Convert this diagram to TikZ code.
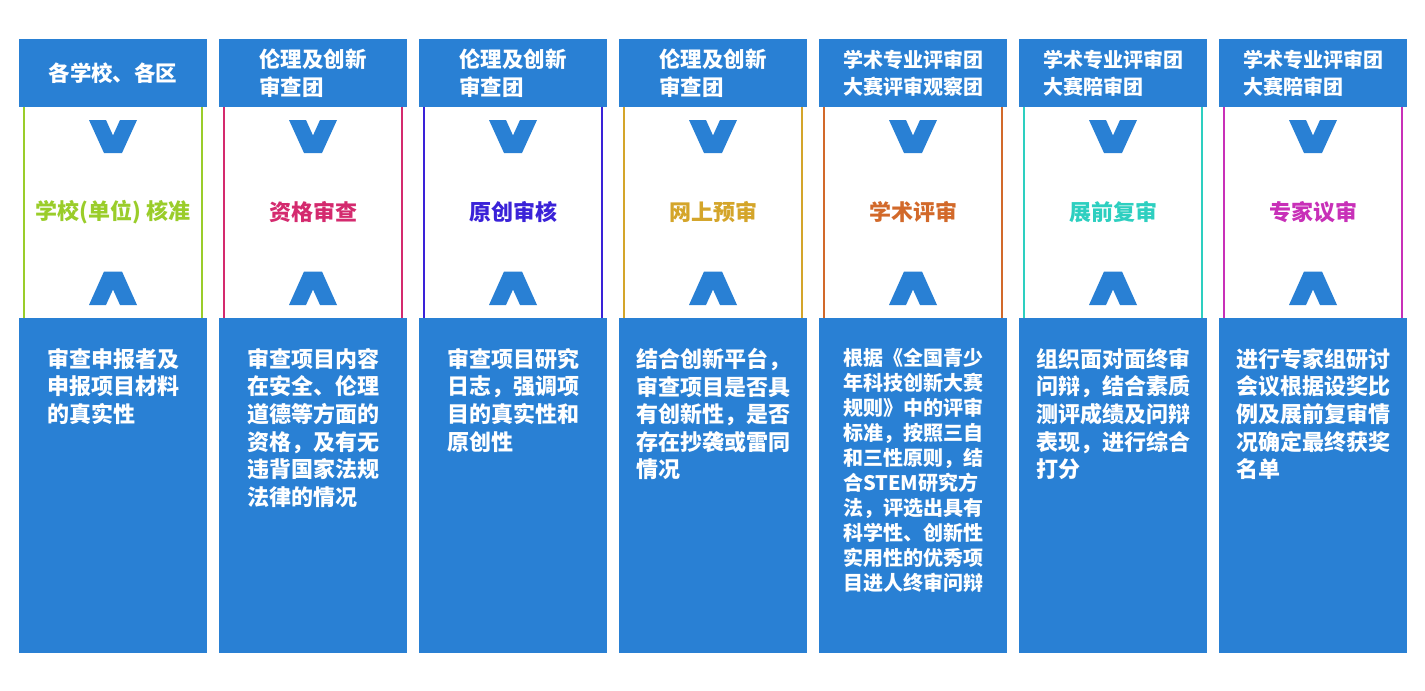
\documentclass[tikz,border=0pt]{standalone}
\usepackage{fontspec}
\setmainfont{Noto Sans CJK SC}
\definecolor{mainblue}{HTML}{2980D4}
\definecolor{cA}{HTML}{9ACD2A}
\definecolor{cB}{HTML}{D42A6E}
\definecolor{cC}{HTML}{3A22D8}
\definecolor{cD}{HTML}{D4A52A}
\definecolor{cE}{HTML}{D2692A}
\definecolor{cF}{HTML}{2DCFC0}
\definecolor{cG}{HTML}{C830B8}
\tikzset{
  headbox/.style={fill=mainblue,draw=none},
  bodybox/.style={fill=mainblue,draw=none},
  headtext/.style={text=white,font=\bfseries\fontsize{21.5}{28}\selectfont,align=left,inner sep=0pt},
  headtextsm/.style={text=white,font=\bfseries\fontsize{20}{27}\selectfont,align=left,inner sep=0pt},
  midtext/.style={font=\bfseries\fontsize{22}{26}\selectfont,inner sep=0pt},
  bodytext/.style={text=white,font=\bfseries\fontsize{22}{27.6}\selectfont,align=left,inner sep=0pt,anchor=north},
  bodytextsm/.style={text=white,font=\bfseries\fontsize{20}{25}\selectfont,align=left,inner sep=0pt,anchor=north},
  chev/.style={fill=mainblue,draw=none},
  sideline/.style={line width=1.1pt}
}
\newcommand\stagecol[7]{%
  \pgfmathsetmacro\xa{19+200*#1}
  \pgfmathsetmacro\xb{207+200*#1}
  \pgfmathsetmacro\xc{113+200*#1}
  \fill[headbox] (\xa,39) rectangle (\xb,106.7);
  \fill[bodybox] (\xa,318.3) rectangle (\xb,652.7);
  \coordinate (tl#1) at (\xa+5,106.7);
  \coordinate (bl#1) at (\xa+5,318.3);
  \coordinate (tr#1) at (\xb-5,106.7);
  \coordinate (br#1) at (\xb-5,318.3);
  \draw[sideline,#2] (tl#1) -- (bl#1);
  \draw[sideline,#2] (tr#1) -- (br#1);
  \node[#4] (head#1) at (\xc,73) {#3};
  \node[midtext,text=#2] (mid#1) at (\xc,212) {#5};
  \node[#7] (body#1) at (\xc,348) {#6};
  \fill[chev,shift={(\xc,0)}] (-24,120) -- (-7,120) -- (0,135.5) -- (7,120) -- (24,120) -- (9,153) -- (-9,153) -- cycle;
  \fill[chev,shift={(\xc,0)}] (-24,305) -- (-7,305) -- (0,289.5) -- (7,305) -- (24,305) -- (9,271.5) -- (-9,271.5) -- cycle;
}
\begin{document}
\begin{tikzpicture}[x=1pt,y=-1pt]
\useasboundingbox[fill=white] (0,0) rectangle (1425,691);
\stagecol{0}{cA}{各学校、各区}{headtext}{学校(单位) 核准}{审查申报者及\\申报项目材料\\的真实性}{bodytext}
\stagecol{1}{cB}{伦理及创新\\审查团}{headtext}{资格审查}{审查项目内容\\在安全、伦理\\道德等方面的\\资格，及有无\\违背国家法规\\法律的情况}{bodytext}
\stagecol{2}{cC}{伦理及创新\\审查团}{headtext}{原创审核}{审查项目研究\\日志，强调项\\目的真实性和\\原创性}{bodytext}
\stagecol{3}{cD}{伦理及创新\\审查团}{headtext}{网上预审}{结合创新平台，\\审查项目是否具\\有创新性，是否\\存在抄袭或雷同\\情况}{bodytext}
\stagecol{4}{cE}{学术专业评审团\\大赛评审观察团}{headtextsm}{学术评审}{根据《全国青少\\年科技创新大赛\\规则》中的评审\\标准，按照三自\\和三性原则，结\\合STEM研究方\\法，评选出具有\\科学性、创新性\\实用性的优秀项\\目进人终审问辩}{bodytextsm}
\stagecol{5}{cF}{学术专业评审团\\大赛陪审团}{headtextsm}{展前复审}{组织面对面终审\\问辩，结合素质\\测评成绩及问辩\\表现，进行综合\\打分}{bodytext}
\stagecol{6}{cG}{学术专业评审团\\大赛陪审团}{headtextsm}{专家议审}{进行专家组研讨\\会议根据设奖比\\例及展前复审情\\况确定最终获奖\\名单}{bodytext}
\end{tikzpicture}
\end{document}
